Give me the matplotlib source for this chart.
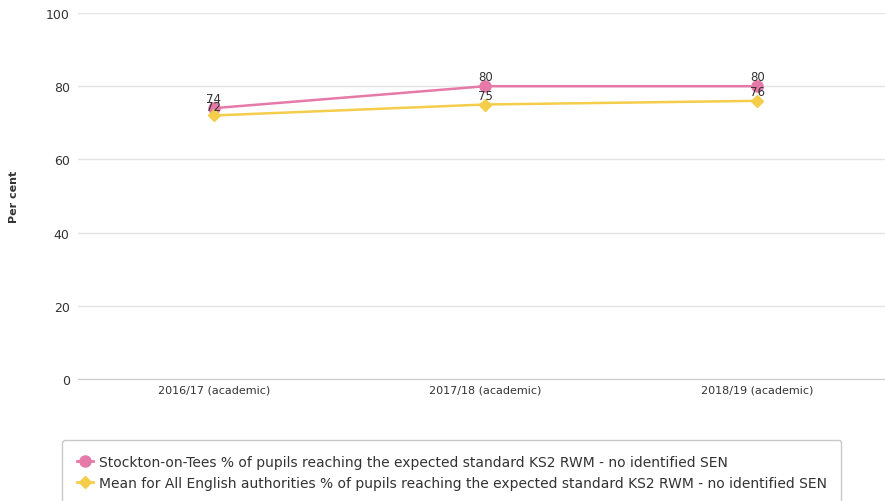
import matplotlib.pyplot as plt
from matplotlib.lines import Line2D
import numpy as np

years = ["2016/17 (academic)", "2017/18 (academic)", "2018/19 (academic)"]
stockton = [74, 80, 80]
england_mean = [72, 75, 76]
names = [
    "Stockton-on-Tees % of pupils reaching the expected standard KS2 RWM - no identified SEN",
    "Mean for All English authorities % of pupils reaching the expected standard KS2 RWM - no identified SEN",
]

PINK = "#e57aa9"
YELLOW = "#f4cd4a"
GRID = "#e4e4e4"
TEXT = "#333333"

fig = plt.figure(figsize=(8.85, 5.02), dpi=100)
ax = fig.add_axes([78 / 885, 1 - 380 / 502, (893 - 78) / 885, (380 - 14) / 502])

x = np.arange(len(years))
ax.plot(x, stockton, color=PINK, lw=1.8, marker="o", ms=8, zorder=3)
ax.plot(x, england_mean, color=YELLOW, lw=1.8, marker="D", ms=6.5, zorder=3)

# value labels just above each point
for series in (stockton, england_mean):
    for xi, v in zip(x, series):
        ax.annotate(str(v), (xi, v), xytext=(0, 2), textcoords="offset points",
                    ha="center", va="bottom", fontsize=8.5, color=TEXT, zorder=4)

ax.set_xlim(-0.5, 2.5)
ax.set_ylim(0, 100)
ax.set_yticks([0, 20, 40, 60, 80, 100])
ax.set_xticks(x)
ax.set_xticklabels(years)
ax.grid(axis="y", color=GRID, lw=1)
ax.set_axisbelow(True)
for s in ax.spines.values():
    s.set_visible(False)
ax.spines["bottom"].set_visible(True)
ax.spines["bottom"].set_color("#cccccc")
ax.tick_params(axis="y", length=0, pad=6, labelsize=9, labelcolor=TEXT)
ax.tick_params(axis="x", length=0, pad=4, labelsize=8, labelcolor=TEXT)

fig.text(14 / 885, 1 - 197 / 502, "Per cent", rotation=90, ha="center", va="center",
         fontsize=8, fontweight="bold", color=TEXT)

handles = [
    Line2D([], [], color=PINK, lw=2, marker="o", ms=8),
    Line2D([], [], color=YELLOW, lw=2, marker="D", ms=6.5),
]
leg = fig.legend(handles, names, loc="upper left",
                 bbox_to_anchor=(62 / 885, 1 - 441 / 502), fontsize=10,
                 frameon=True, fancybox=True, handlelength=1.15, handletextpad=0.45,
                 labelspacing=0.5, borderpad=1.05, borderaxespad=0,
                 labelcolor=TEXT)
leg.get_frame().set_edgecolor("#bbbbbb")
leg.get_frame().set_linewidth(1)

fig.savefig("out.png", dpi=100)
